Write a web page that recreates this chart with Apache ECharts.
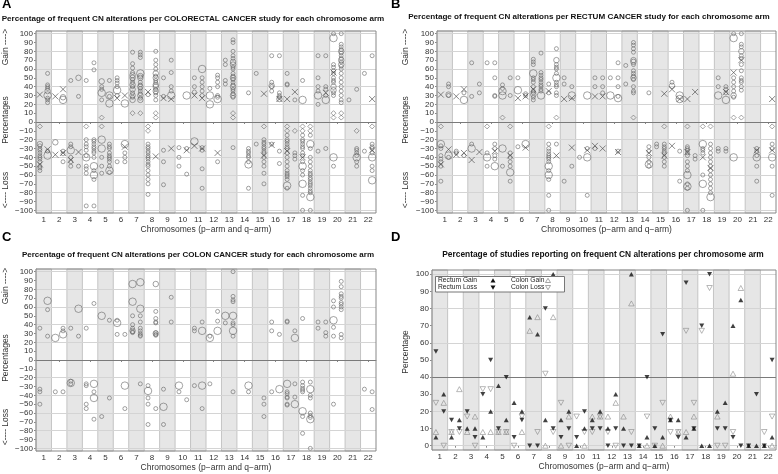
<!DOCTYPE html>
<html><head><meta charset="utf-8">
<script src="https://cdn.jsdelivr.net/npm/echarts@6/dist/echarts.min.js"></script>
<style>html,body{margin:0;padding:0;background:#fff}#c{width:778px;height:474px}</style>
</head><body><div id="c"></div>
<script>
// ---------- axes / ticks ----------
const chromosomes = [1,2,3,4,5,6,7,8,9,10,11,12,13,14,15,16,17,18,19,20,21,22];
const signedTicks = [-100,-90,-80,-70,-60,-50,-40,-30,-20,-10,0,10,20,30,40,50,60,70,80,90,100];
const percentTicks = [0,10,20,30,40,50,60,70,80,90,100];
const signedGridLines = [-100,-80,-60,-40,-20,20,40,60,80,100];
const percentGridLines = [0,20,60,80,100];

// ---------- Panel A: colorectal studies  [arm, small[], medium[], large[]] ----------
const colorectalGain = [
 ['1q',[55,42,40,38,27,25,22],[35],[30]], ['2q',[],[28],[25]], ['3p',[47],[],[]], ['3q',[29],[50],[]],
 ['4p',[47],[],[]], ['4q',[67,59],[],[]], ['5p',[40,37,25,5],[46],[33]], ['5q',[47,29],[],[30,21]],
 ['6p',[50,47,44,40,30],[],[36]], ['6q',[],[],[21]],
 ['7p',[79,66,61,56,48,45,40,33,28,10],[53,50,42,37,30,25],[]],
 ['7q',[79,76,73,45,42,38,35,32,27,10],[52,50,40,30,25],[55]],
 ['8p',[31],[],[]], ['8q',[80,70,65,60,52,47,45,37,33,30,25,10,5],[55,50,42,40,35],[]],
 ['9p',[50,29],[],[]], ['9q',[70,56,40,35],[],[30]], ['10q',[],[],[30]],
 ['11p',[50,40,34],[],[]], ['11q',[50,45,40,35,30],[],[60]],
 ['12p',[38],[],[30,20]], ['12q',[53,50,45,40,30,28],[],[26]],
 ['13p',[70,65,47,43],[],[]], ['13q',[93,90,80,75,72,62,60,55,52,48,45,42,37,35,32,28,10,5],[68,65,50,40,30],[]],
 ['14q',[33],[],[]], ['15p',[55],[],[]], ['16p',[75,45,40,35],[41],[]], ['16q',[75,33,30,28],[26],[]],
 ['17p',[55,43,42],[],[]], ['17q',[25],[],[]], ['18p',[47],[],[25]],
 ['19p',[75,50,40,35,20],[],[30]], ['19q',[75,40,37,30],[],[25]],
 ['20p',[100,65,62,58,55,50,47,45,33,30,10,5],[40,36],[95]],
 ['20q',[100,88,85,82,78,75,72,68,63,60,55,50,45,40,35,30,25,22,10,5],[80,70,65],[]],
 ['21p',[25],[],[]], ['21q',[37],[],[]], ['22p',[55],[],[]], ['22q',[75],[],[]]
];
const colorectalLoss = [
 ['1p',[-5,-27,-30,-32,-35,-38,-40,-42,-45,-50,-52,-55],[-25],[]], ['1q',[-33],[],[-38]],
 ['2p',[],[-23],[]], ['2q',[-33,-36,-45],[],[]], ['3p',[-25,-28,-40,-45,-50],[],[-32]], ['3q',[-50],[],[]],
 ['4p',[-5,-20,-25,-28,-32,-38,-50,-53,-58,-95],[],[-40]],
 ['4q',[-20,-22,-25,-28,-30,-33,-35,-40,-55,-65,-95],[],[-50,-60]],
 ['5p',[-5,-40,-50,-58],[],[-20,-30]], ['5q',[-25,-28,-30,-35,-38,-40,-42,-45,-50,-57],[],[-55]],
 ['6p',[-45],[],[]], ['6q',[-35,-40,-45],[],[-25]],
 ['8p',[-5,-10,-25,-28,-30,-33,-35,-38,-40,-42,-45,-48,-50,-55,-60,-65,-70,-82],[],[]],
 ['9p',[-32,-45,-71],[],[]], ['10p',[-29,-40,-50],[],[]], ['10q',[-30,-59],[],[]],
 ['11p',[],[],[-22]], ['11q',[-29,-32,-53,-75],[],[]], ['12q',[-45],[],[]], ['13q',[-29],[],[]],
 ['14q',[-30,-33,-35,-38,-40,-45,-75],[],[-48]], ['15p',[-25],[],[]],
 ['15q',[-5,-20,-23,-25,-28,-30,-33,-35,-40,-45,-50,-58,-70],[],[]],
 ['16p',[-25],[],[]], ['16q',[-33,-47],[],[]],
 ['17p',[-5,-10,-15,-20,-22,-25,-28,-30,-35,-40,-45,-50,-55,-58,-60,-62,-65,-75],[],[-72]],
 ['17q',[-10,-35,-38,-42],[],[]],
 ['18p',[-5,-10,-15,-20,-22,-25,-28,-30,-35,-38,-45,-55,-60,-83,-100],[],[-50,-70]],
 ['18q',[-5,-10,-15,-30,-40,-45,-50,-55,-58,-60,-63,-65,-68,-70,-72,-75,-78,-80,-100],[],[-25,-85]],
 ['19p',[-33],[],[]], ['19q',[-30],[],[]], ['20p',[-50],[],[-40]],
 ['21q',[-10,-30,-32,-35,-38,-45,-50],[],[-40]], ['22p',[-33],[],[]],
 ['22q',[-5,-25,-28,-30,-35,-50,-55],[],[-40,-66]]
];
const colorectalMeans = [
 ['1p',31],['2p',29],['2q',37],['6p',27],['6q',30],['8p',34],['9p',27],['9q',26],['11p',30],['11q',27],
 ['15q',32],['16q',26],['17p',26],['17q',34],['19q',33],['20p',56],['22q',26],
 ['1p',-48],['1q',-31],['2p',-37],['2q',-35],['3p',-43],['3q',-34],['6q',-28],['8q',-39],['9q',-30],
 ['10q',-32],['11p',-27],['11q',-30],['12q',-35],['15q',-38],['16p',-26],['17p',-33],['18p',-40],['22q',-32]
];

// ---------- Panel B: rectum studies ----------
const rectumGain = [
 ['1q',[43,40,30],[31],[]], ['2q',[33],[],[25]], ['3p',[67,29],[],[]], ['3q',[43,33],[],[]], ['4p',[67],[],[]],
 ['4q',[67,50,30,29],[],[]], ['5p',[42,38,5],[],[35,30]], ['5q',[50,30],[],[]], ['6p',[50],[],[36]], ['6q',[32,30],[],[]],
 ['7p',[71,68,65,50,48,45,40,35,33,28,25],[31],[55]], ['7q',[78,56,53,50,48,45,42,40,37,35],[],[30]],
 ['8p',[43,33],[],[]], ['8q',[83,65,62,60,55,45,42,40,33,30,5],[70],[50]],
 ['9p',[50,43],[],[]], ['9q',[40],[],[30]], ['10q',[],[],[30]], ['11p',[50,40],[],[]], ['11q',[50,40,33],[],[]],
 ['12p',[50],[],[30]], ['12q',[67,50,40,29],[],[27]], ['13p',[64,43],[],[]],
 ['13q',[90,87,83,79,65,58,55,52,48,40,35,33,5],[70,68,50],[]], ['14q',[33],[],[]],
 ['16p',[45],[41],[]], ['16q',[],[],[30,26]], ['19p',[50,40],[],[30]], ['19q',[40,37,33],[],[25]],
 ['20p',[100,50,45,40,35,28,5],[30],[95]], ['20q',[100,88,85,75,72,65,58,50,47,45,40,36,5],[80],[]]
];
const rectumLoss = [
 ['1p',[-5,-27,-30,-38,-42,-45,-50,-67],[],[-25]], ['1q',[-40],[],[-38]], ['2p',[-33,-35],[],[]], ['2q',[-38],[],[]],
 ['3p',[-25],[],[-30]], ['4p',[-5,-35,-50],[],[-40]], ['4q',[-25,-30,-38,-42],[],[-50]], ['5p',[-50],[],[-30]],
 ['5q',[-5,-35,-40,-45,-50,-67],[],[-57]], ['6p',[-28],[],[]], ['6q',[],[],[-25]],
 ['8p',[-5,-25,-30,-33,-36,-38,-40,-42,-45,-55,-65,-83,-100],[],[-50,-60]], ['8q',[-25],[],[]],
 ['9p',[-67],[],[]], ['9q',[-50],[],[]], ['10p',[-40],[],[]], ['10q',[-30,-83],[],[-40]], ['11p',[-30],[],[]],
 ['12q',[-33],[],[]], ['14q',[-28,-33,-40,-45,-50],[],[-48]], ['15p',[-25,-28],[],[]],
 ['15q',[-5,-25,-28,-30,-33,-35,-40,-45,-50],[],[]], ['16q',[-33,-67],[],[]],
 ['17p',[-5,-28,-30,-32,-35,-38,-45,-50,-55,-70,-75,-100],[],[-60,-73]], ['17q',[-38,-42],[],[]],
 ['18p',[-5,-30,-32,-35,-60,-100],[],[-25,-70]], ['18q',[-5,-25,-30,-35,-40,-45,-50,-55,-60,-65,-70,-75,-80],[],[-85]],
 ['19p',[-30,-33],[],[]], ['19q',[-30,-33],[],[]], ['20p',[],[],[-40]], ['21q',[-30,-33,-38,-50,-67],[],[-40]],
 ['22q',[-5,-25,-30,-50,-83],[],[-40]]
];
const rectumMeans = [
 ['1p',31],['2p',29],['2q',37],['6p',27],['6q',29],['7p',37],['8p',35],['9p',26],['9q',27],['11p',29],['11q',29],
 ['15q',32],['16p',37],['16q',26],['17p',26],['17q',34],['19q',34],['20p',56],['20q',70],['22q',26],
 ['1p',-48],['1q',-31],['2p',-37],['2q',-35],['3p',-43],['3q',-34],['4q',-33],['5q',-38],['6q',-29],['8q',-38],
 ['9q',-29],['10q',-32],['11p',-27],['11q',-30],['12q',-34],['14q',-35],['15q',-38],['16p',-27],['17p',-34],
 ['18p',-40],['18q',-52],['21q',-32],['22q',-32]
];

// ---------- Panel C: colon studies ----------
const colonGain = [
 ['1p',[36],[],[]], ['1q',[57,27],[],[67]], ['2p',[],[],[25]], ['2q',[36,33],[],[29]], ['3p',[36],[],[]], ['3q',[27],[],[58]],
 ['4p',[36],[],[]], ['4q',[64],[],[]], ['5p',[],[],[50]], ['5q',[45],[],[]], ['6p',[45,29],[],[42]], ['6q',[29],[],[]],
 ['7p',[50,40,36,32,31],[33],[86,66]], ['7q',[50,43,36,33,30,28,27],[],[88,58]],
 ['8q',[55,47,43,42,31,29,28],[86,30],[]], ['9q',[71,43],[],[]], ['11p',[36,33],[],[]], ['11q',[43],[],[33]],
 ['12p',[27],[],[25]], ['12q',[55,44],[],[33]], ['13p',[42],[],[50]], ['13q',[100,72,68,66,42,40,27],[],[50,33]],
 ['16p',[43,33],[],[]], ['16q',[29],[],[]], ['17p',[44,43],[],[]], ['17q',[33],[],[25]], ['18p',[47],[],[]],
 ['19p',[43,36],[],[]], ['19q',[43,31,27],[],[]], ['20p',[67,60,37,27],[],[45]],
 ['20q',[89,83,75,72,70,65,63,60,57,29,25],[],[]]
];
const colonLoss = [
 ['1p',[-33,-36,-50],[],[]], ['2p',[-36],[],[]], ['2q',[-36],[],[]], ['3p',[-24,-27],[],[-26]],
 ['4p',[-27,-29,-50,-55],[],[]], ['4q',[-36,-67],[],[-27,-43]], ['5p',[-64],[],[]], ['5q',[-43],[],[]],
 ['6q',[-55],[],[-29]], ['7q',[-27],[],[]], ['8p',[-29,-43,-50,-73],[],[-35]], ['8q',[-55],[],[]],
 ['9p',[-33,-73],[],[-53]], ['10p',[-36],[],[-29]], ['10q',[-45],[],[]], ['11p',[-29],[],[]], ['11q',[-55],[],[-29]],
 ['12p',[-27],[],[]], ['13q',[-36],[],[]], ['14q',[-36],[],[-29]], ['15q',[-43,-50,-64],[],[]], ['16p',[-36],[],[]],
 ['16q',[],[],[-33]], ['17p',[-36,-38,-42,-43,-50,-51],[],[-27]], ['17q',[-27,-42],[],[-50]],
 ['18p',[-25,-29,-32,-34,-36,-64,-83],[],[-58]], ['18q',[-25,-40,-43,-60,-63,-65,-100],[],[-33,-67]],
 ['20p',[-50],[],[]], ['22p',[-33],[],[]], ['22q',[-36,-56],[],[]]
];

// ---------- Panel D: percentage of studies  [arm, value] ----------
const studyRectumGain = [['1p',5],['1q',30],['2p',5],['2q',15],['3p',10],['3q',10],['4p',5],['4q',20],['5p',35],['5q',15],
 ['6p',25],['6q',20],['7p',75],['7q',65],['8p',15],['8q',100],['9p',15],['9q',20],['10p',0],['10q',10],['11p',15],['11q',20],
 ['12p',10],['12q',30],['13p',10],['13q',100],['14p',0],['14q',5],['15p',0],['15q',5],['16p',15],['16q',15],['17p',5],['17q',10],
 ['18p',0],['18q',0],['19p',20],['19q',25],['20p',70],['20q',85],['21p',0],['21q',0],['22p',0],['22q',5]];
const studyRectumLoss = [['1p',55],['1q',20],['2p',15],['2q',10],['3p',20],['3q',5],['4p',30],['4q',50],['5p',10],['5q',40],
 ['6p',5],['6q',15],['7p',0],['7q',0],['8p',80],['8q',10],['9p',5],['9q',10],['10p',5],['10q',20],['11p',10],['11q',10],
 ['12p',0],['12q',10],['13p',0],['13q',0],['14p',0],['14q',40],['15p',10],['15q',65],['16p',15],['16q',5],['17p',95],['17q',10],
 ['18p',70],['18q',100],['19p',10],['19q',10],['20p',5],['20q',0],['21p',0],['21q',30],['22p',0],['22q',50]];
const studyColonGain = [['1p',8],['1q',25],['2p',8],['2q',33],['3p',8],['3q',17],['4p',8],['4q',8],['5p',8],['5q',8],['6q',8],
 ['7p',67],['7q',75],['8p',0],['8q',75],['9p',0],['9q',17],['10q',0],['11p',17],['11q',17],['12p',17],['12q',25],['13p',17],
 ['13q',83],['14q',0],['15q',0],['16p',17],['16q',8],['17p',8],['17q',17],['19p',17],['20p',42],['20q',92],['22q',0]];
const studyColonLoss = [['1p',25],['1q',0],['2p',8],['2q',8],['3p',17],['3q',0],['4p',33],['4q',33],['5p',8],['5q',8],['6p',0],
 ['6q',17],['7q',8],['8p',42],['8q',8],['9p',25],['9q',0],['10p',17],['10q',8],['11p',8],['11q',17],['12p',8],['12q',0],['13q',8],
 ['14q',17],['15p',0],['15q',25],['16p',8],['16q',8],['17p',67],['17q',25],['18p',67],['18q',92],['19p',0],['19q',0],['20p',8],
 ['22p',8],['22q',17]];

// ---------- helpers ----------
function armX(arm){ const c = parseInt(arm,10); return arm.slice(-1)==='p' ? c-0.25 : c+0.25; }
function expand(rows){
  const out=[];
  rows.forEach(r=>{ [1,2,3].forEach(k=>{ r[k].forEach(v=>out.push([armX(r[0]), v, k])); }); });
  return out;
}
function pairs(rows){ return rows.map(r=>[armX(r[0]), r[1]]); }

const FONT = "'Liberation Sans', Arial, sans-serif";
const grids = [
  {left:36, top:31, width:340, height:182},
  {left:437, top:31, width:339, height:182},
  {left:36, top:269, width:340, height:182},
  {left:432, top:270, width:344, height:180}
];
const bandData = chromosomes.filter(c=>c%2===1).map(c=>[{xAxis:c-0.5},{xAxis:c+0.5}]);

const xAxes = grids.map((g,i)=>({
  type:'value', gridIndex:i, min:0.5, max:22.5,
  axisLine:{show:true, lineStyle:{color:'#888', width:1}},
  axisTick:{show:true, customValues:chromosomes, length:2, lineStyle:{color:'#888'}},
  axisLabel:{customValues:chromosomes, fontSize:8, color:'#333', margin:3, fontFamily:FONT},
  splitLine:{show:false},
  name:'Chromosomes (p\u2212arm and q\u2212arm)', nameLocation:'middle', nameGap:12,
  nameTextStyle:{fontSize:8.5, color:'#333', fontFamily:FONT}
}));
const yAxes = grids.map((g,i)=>{
  const pct = i===3;
  return {
    type:'value', gridIndex:i, min: pct ? -2.5 : -103, max: pct ? 102.5 : 103,
    axisLine:{show:true, lineStyle:{color:'#888', width:1}},
    axisTick:{show:true, customValues: pct?percentTicks:signedTicks, length:2, lineStyle:{color:'#888'}},
    axisLabel:{customValues: pct?percentTicks:signedTicks, fontSize:8, color:'#333', margin:3, fontFamily:FONT,
      formatter: v => (v<0 ? '\u2212'+Math.abs(v) : ''+v)},
    splitLine:{show:false}
  };
});

const series = [];
grids.forEach((g,i)=>{
  const pct = i===3;
  series.push({
    type:'scatter', xAxisIndex:i, yAxisIndex:i, data:[], silent:true, z:1,
    markArea:{silent:true, z:1, itemStyle:{color:'#e6e6e6', borderColor:'#c4c4c4', borderWidth:1}, data:bandData}
  });
  const lines = (pct?percentGridLines:signedGridLines).map(v=>({yAxis:v, lineStyle:{color:'#d4d4d4', width:1, type:'solid'}}));
  lines.push({yAxis: pct?40:0, lineStyle:{color:'#7a7a7a', width:1.2, type:'solid'}});
  series.push({
    type:'scatter', xAxisIndex:i, yAxisIndex:i, data:[], silent:true, z:2,
    markLine:{silent:true, z:2, symbol:['none','none'], label:{show:false}, animation:false, data:lines}
  });
});

const circleSize = k => (k===1?4:(k===2?5.5:7.5));
function circleSeries(i, data){
  return {
    type:'scatter', xAxisIndex:i, yAxisIndex:i, data:data, z:4, silent:true,
    symbol: v => (Math.abs(v[1])<=10 && v[2]===1 ? 'diamond' : 'circle'),
    symbolSize: v => (Math.abs(v[1])<=10 && v[2]===1 ? 5 : circleSize(v[2])),
    itemStyle:{color:'rgba(0,0,0,0)', borderColor:'#666', borderWidth:0.75}
  };
}
function meanSeries(i, data){
  return {
    type:'scatter', xAxisIndex:i, yAxisIndex:i, data:data, z:5, silent:true,
    symbol:'path://M0 0L10 10M10 0L0 10', symbolSize:6,
    itemStyle:{color:'rgba(0,0,0,0)', borderColor:'#444', borderWidth:0.8}
  };
}
series.push(circleSeries(0, expand(colorectalGain).concat(expand(colorectalLoss))));
series.push(meanSeries(0, pairs(colorectalMeans)));
series.push(circleSeries(1, expand(rectumGain).concat(expand(rectumLoss))));
series.push(meanSeries(1, pairs(rectumMeans)));
series.push(circleSeries(2, expand(colonGain).concat(expand(colonLoss))));

function triSeries(name, data, filled, down){
  return {
    name:name, type:'scatter', xAxisIndex:3, yAxisIndex:3, data:pairs(data), z: filled?6:5, silent:true,
    symbol:'triangle', symbolSize: filled?[5,4.5]:[5.5,5], symbolRotate: down?180:0,
    itemStyle: filled ? {color:'#111'} : {color:'rgba(0,0,0,0)', borderColor:'#808080', borderWidth:0.7}
  };
}
series.push(triSeries('Rectum Gain', studyRectumGain, true, false));
series.push(triSeries('Rectum Loss', studyRectumLoss, true, true));
series.push(triSeries('Colon Gain', studyColonGain, false, false));
series.push(triSeries('Colon Loss', studyColonLoss, false, true));

// ---------- text ----------
function txt(x,y,t,opt){
  return Object.assign({type:'text', x:x, y:y, silent:true, z:20,
    style:Object.assign({text:t, fill:'#333', font:'8px '+FONT, align:'left', verticalAlign:'middle'}, opt||{})});
}
function rot(x,y,t){
  return {type:'text', x:x, y:y, rotation:Math.PI/2, silent:true, z:20,
    style:{text:t, fill:'#333', font:'8.5px '+FONT, align:'center', verticalAlign:'middle'}};
}
const graphics = [
  txt(2,4,'A',{font:'bold 13px '+FONT, fill:'#000'}),
  txt(391,4,'B',{font:'bold 13px '+FONT, fill:'#000'}),
  txt(2,237,'C',{font:'bold 13px '+FONT, fill:'#000'}),
  txt(391,237,'D',{font:'bold 13px '+FONT, fill:'#000'}),
  txt(193,18.5,'Percentage of frequent CN alterations per COLORECTAL CANCER study for each chromosome arm',{font:'bold 8.1px '+FONT, fill:'#111', align:'center'}),
  txt(589,17,'Percentage of frequent CN alterations per RECTUM CANCER study for each chromosome arm',{font:'bold 8.1px '+FONT, fill:'#111', align:'center'}),
  txt(198,254.5,'Percentage of frequent CN alterations per COLON CANCER study for each chromosome arm',{font:'bold 8px '+FONT, fill:'#111', align:'center'}),
  txt(603,254.5,'Percentage of studies reporting on frequent CN alterations per chromosome arm',{font:'bold 8.4px '+FONT, fill:'#111', align:'center'}),
  rot(6,47,'Gain ---->'), rot(6,120,'Percentages'), rot(6,190,'<---- Loss'),
  rot(406,47,'Gain ---->'), rot(406,120,'Percentages'), rot(406,190,'<---- Loss'),
  rot(6,286,'Gain ---->'), rot(6,358,'Percentages'), rot(6,427,'<---- Loss'),
  rot(406,352,'Percentage'),
  // legend of panel D
  {type:'rect', silent:true, z:20, shape:{x:435.5, y:276.5, width:129, height:15.5}, style:{fill:'#fff', stroke:'#777', lineWidth:1}},
  txt(438,280.5,'Rectum Gain',{font:'6.7px '+FONT, fill:'#222'}),
  txt(438,287.5,'Rectum Loss',{font:'6.7px '+FONT, fill:'#222'}),
  txt(511,280.5,'Colon Gain',{font:'6.7px '+FONT, fill:'#222'}),
  txt(511,287.5,'Colon Loss',{font:'6.7px '+FONT, fill:'#222'}),
  {type:'polygon', silent:true, z:21, shape:{points:[[493,278.3],[495.5,282.5],[490.5,282.5]]}, style:{fill:'#111'}},
  {type:'polygon', silent:true, z:21, shape:{points:[[493,289.7],[495.5,285.5],[490.5,285.5]]}, style:{fill:'#111'}},
  {type:'polygon', silent:true, z:21, shape:{points:[[548,278.3],[550.5,282.5],[545.5,282.5]]}, style:{fill:'none', stroke:'#808080', lineWidth:0.7}},
  {type:'polygon', silent:true, z:21, shape:{points:[[548,289.7],[550.5,285.5],[545.5,285.5]]}, style:{fill:'none', stroke:'#808080', lineWidth:0.7}}
];

const chart = echarts.init(document.getElementById('c'), null, {renderer:'canvas'});
chart.setOption({
  animation:false,
  backgroundColor:'#fff',
  textStyle:{fontFamily:FONT},
  grid: grids.map(g=>Object.assign({show:true, z:10, borderColor:'#888', borderWidth:1, backgroundColor:'rgba(0,0,0,0)'}, g)),
  xAxis:xAxes, yAxis:yAxes, series:series, graphic:graphics
});
</script></body></html>
